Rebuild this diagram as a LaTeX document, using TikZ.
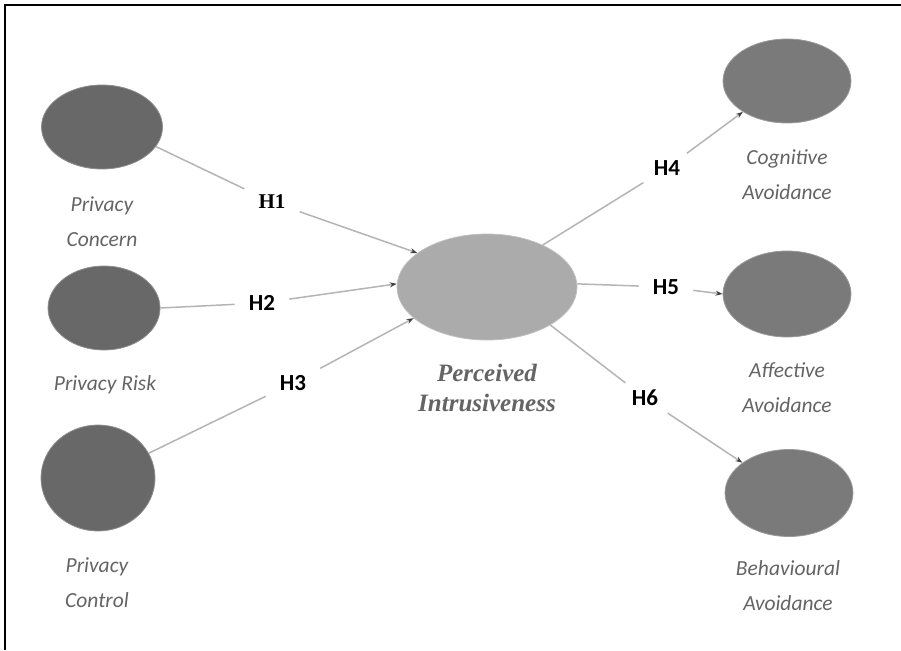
\documentclass[tikz,border=0pt]{standalone}
\usepackage{fontspec}
\setmainfont{Liberation Serif}
\newfontfamily\labelfont{Carlito}
\usetikzlibrary{shapes.geometric,arrows.meta}
\definecolor{darkfill}{HTML}{686868}
\definecolor{midfill}{HTML}{7A7A7A}
\definecolor{lightfill}{HTML}{ABABAB}
\definecolor{linkgray}{HTML}{B4B4B4}
\definecolor{textgray}{HTML}{646464}
\begin{document}
\begin{tikzpicture}[x=1pt,y=-1pt,
        construct/.style={ellipse,inner sep=0pt,draw=#1!75!white,line width=0.8pt,fill=#1},
        cname/.style={text=textgray,align=center,font=\labelfont\itshape\fontsize{21.5}{35}\selectfont},
        hyp/.style={font=\labelfont\bfseries\fontsize{23}{23}\selectfont,inner xsep=14pt,inner ysep=7pt},
        link/.style={draw=linkgray,line width=1.5pt},
        arr/.style={-{Stealth[length=7pt,width=5pt,color=black!75]}}]
        \useasboundingbox (0,0) rectangle (901,650);
        \draw[line width=2pt] (5,650) -- (5,5) -- (901,5);

        % exogenous constructs
        \node (pc) at (102,127) [construct=darkfill,minimum width=121pt,minimum height=84pt]{};
        \node (pr) at (104,308) [construct=darkfill,minimum width=112pt,minimum height=84pt]{};
        \node (pk) at (98,478) [construct=darkfill,minimum width=114pt,minimum height=106pt]{};
        \node (pcT) at (102,222) [cname]{Privacy\\Concern};
        \node (prT) at (105,385) [cname]{Privacy Risk};
        \node (pkT) at (97,583) [cname]{Privacy\\Control};

        % mediator
        \node (pi) at (487,287) [construct=lightfill,minimum width=180pt,minimum height=106pt]{};
        \node (piT) at (487,388) [text=textgray,align=center,font=\bfseries\itshape\fontsize{25}{30}\selectfont]{Perceived\\Intrusiveness};

        % outcomes
        \node (ca) at (787,81) [construct=midfill,minimum width=128pt,minimum height=84pt]{};
        \node (aa) at (787,294) [construct=midfill,minimum width=128pt,minimum height=86pt]{};
        \node (ba) at (789,493) [construct=midfill,minimum width=128pt,minimum height=87pt]{};
        \node (caT) at (787,175) [cname]{Cognitive\\Avoidance};
        \node (aaT) at (787,388) [cname]{Affective\\Avoidance};
        \node (baT) at (788,586) [cname]{Behavioural\\Avoidance};

        % hypotheses
        \node (h1) at (272,202) [hyp,font=\bfseries\fontsize{21}{21}\selectfont]{H1};
        \node (h2) at (262,303) [hyp]{H2};
        \node (h3) at (293,383) [hyp]{H3};
        \node (h4) at (667,168) [hyp]{H4};
        \node (h5) at (666,287) [hyp]{H5};
        \node (h6) at (645,398) [hyp]{H6};

        \draw[link] (pc.-20) -- (h1);
        \draw[link,arr] (h1) -- (pi.154);
        \draw[link] (pr.0) -- (h2);
        \draw[link,arr] (h2) -- (pi.178);
        \draw[link] (pk.26) -- (h3);
        \draw[link,arr] (h3) -- (pi.203);

        \draw[link] (pi.37) -- (h4);
        \draw[link,arr] (h4) -- (ca.215);
        \draw[link] (pi.2) -- (h5);
        \draw[link,arr] (h5) -- (aa.180);
        \draw[link] (pi.-31) -- (h6);
        \draw[link,arr] (h6) -- (ba.147);
        \end{tikzpicture}
\end{document}
